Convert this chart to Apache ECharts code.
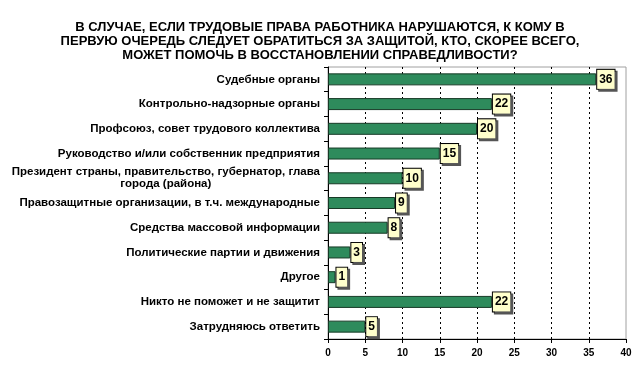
<!DOCTYPE html>
<html>
<head>
<meta charset="utf-8">
<script src="https://cdn.jsdelivr.net/npm/echarts@6/dist/echarts.min.js"></script>
<style>html,body{margin:0;padding:0;background:#fff;}#c{width:640px;height:366px;}</style>
</head>
<body>
<div id="c"></div>
<script>
var titleLines = [
  'В СЛУЧАЕ, ЕСЛИ ТРУДОВЫЕ ПРАВА РАБОТНИКА НАРУШАЮТСЯ, К КОМУ В',
  'ПЕРВУЮ ОЧЕРЕДЬ СЛЕДУЕТ ОБРАТИТЬСЯ ЗА ЗАЩИТОЙ, КТО, СКОРЕЕ ВСЕГО,',
  'МОЖЕТ ПОМОЧЬ В ВОССТАНОВЛЕНИИ СПРАВЕДЛИВОСТИ?'
];
var categories = [
  'Судебные органы',
  'Контрольно-надзорные органы',
  'Профсоюз, совет трудового коллектива',
  'Руководство и/или собственник предприятия',
  'Президент страны, правительство, губернатор, глава\nгорода (района)',
  'Правозащитные организации, в т.ч. международные',
  'Средства массовой информации',
  'Политические партии и движения',
  'Другое',
  'Никто не поможет и не защитит',
  'Затрудняюсь ответить'
];
var values = [36, 22, 20, 15, 10, 9, 8, 3, 1, 22, 5];
var xTicks = [0, 5, 10, 15, 20, 25, 30, 35, 40];

var chart = echarts.init(document.getElementById('c'), null, {renderer: 'canvas'});
var FONT = 'Liberation Sans, Arial, sans-serif';
chart.setOption({
  animation: false,
  backgroundColor: '#fff',
  title: {
    text: titleLines.join('\n'),
    left: 'center',
    top: 15,
    textStyle: {fontFamily: FONT, fontSize: 13, fontWeight: 'bold', color: '#000', lineHeight: 14}
  },
  grid: {
    left: 328, right: 14, top: 67, bottom: 27,
    show: true, borderColor: '#a0a0a0', borderWidth: 1, backgroundColor: 'transparent'
  },
  xAxis: {
    type: 'value',
    min: xTicks[0], max: xTicks[xTicks.length - 1], interval: 5,
    axisLine: {show: true, lineStyle: {color: '#000', width: 1}},
    axisTick: {show: true, length: 4, lineStyle: {color: '#000'}},
    axisLabel: {fontFamily: FONT, fontSize: 10, fontWeight: 'bold', color: '#000', margin: 9},
    splitLine: {show: true, showMinLine: false, showMaxLine: false,
      lineStyle: {color: '#000', type: [2, 3], width: 1}}
  },
  yAxis: {
    type: 'category',
    data: categories,
    inverse: true,
    axisLine: {show: true, lineStyle: {color: '#000', width: 1}},
    axisTick: {show: true, length: 4, alignWithLabel: false, lineStyle: {color: '#000'}},
    axisLabel: {
      fontFamily: FONT, fontSize: 11.5, fontWeight: 'bold', color: '#000', margin: 8,
      lineHeight: 12,
      formatter: function (v) {
        if (v.indexOf('\n') >= 0) {
          return v.split('\n').map(function (s) { return '{c|' + s + '}'; }).join('\n');
        }
        return v;
      },
      rich: {c: {align: 'center', fontFamily: FONT, fontSize: 11.5, fontWeight: 'bold', color: '#000', lineHeight: 12}}
    },
    splitLine: {show: false}
  },
  series: [{
    type: 'bar',
    data: values,
    barWidth: 12,
    itemStyle: {color: '#2e8b5c', borderColor: '#173a26', borderWidth: 1},
    label: {
      show: true,
      position: 'right',
      distance: 1,
      fontFamily: FONT, fontSize: 12, fontWeight: 'bold', color: '#000',
      backgroundColor: '#ffffcc',
      borderColor: '#000', borderWidth: 1,
      padding: [4, 2, 3, 2],
      shadowColor: '#555', shadowOffsetX: 2, shadowOffsetY: 2, shadowBlur: 0
    }
  }]
});
</script>
</body>
</html>
